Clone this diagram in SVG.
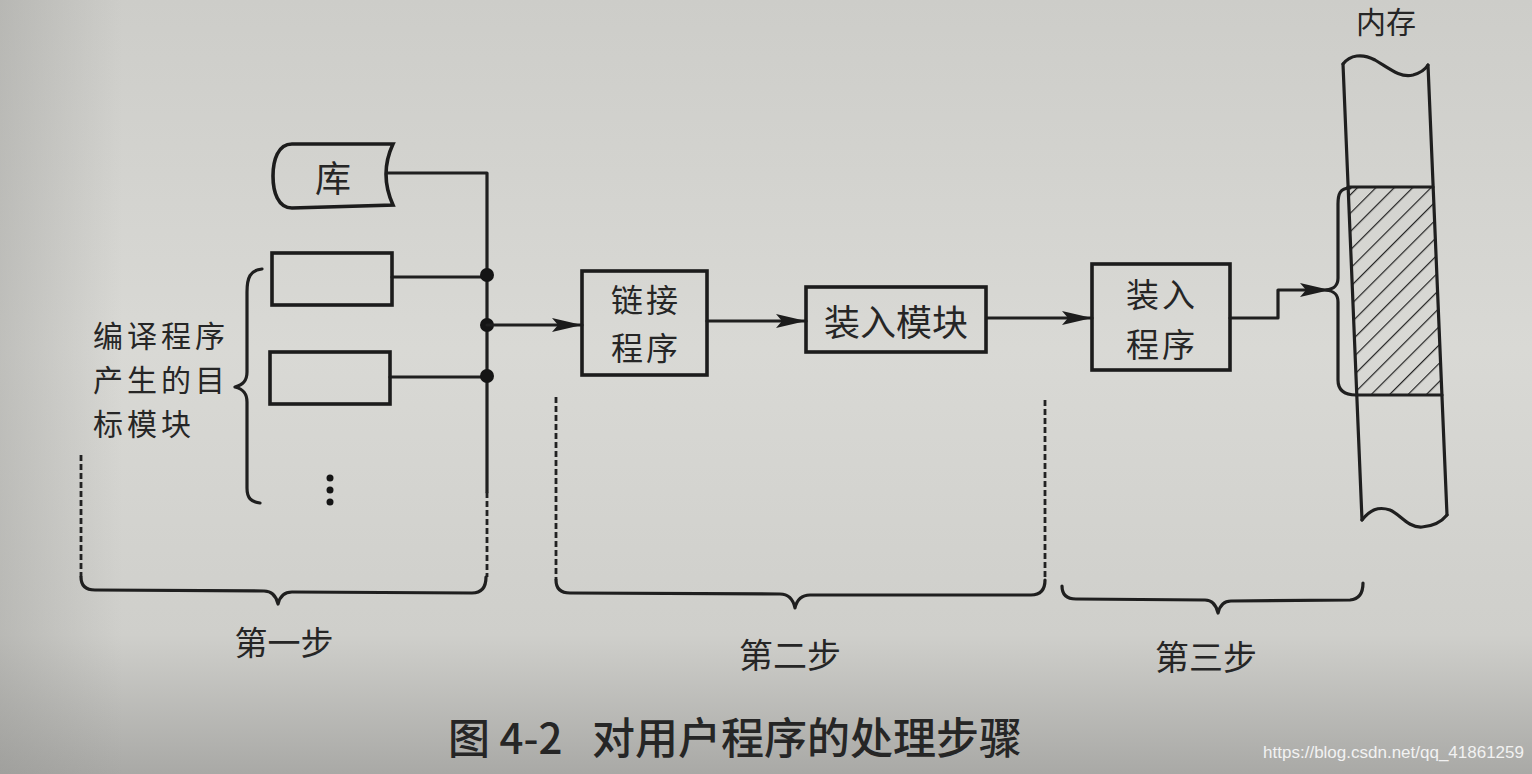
<svg xmlns="http://www.w3.org/2000/svg" width="1532" height="774" viewBox="0 0 1532 774">
<style>
.ln{fill:none;stroke:#1f1f1f;stroke-width:3.2;stroke-linejoin:round;stroke-linecap:round}
.dash{fill:none;stroke:#222;stroke-width:2.8;stroke-dasharray:6 3}
.box{fill:none;stroke:#1c1c1c;stroke-width:3.6}
.t{font-family:"Noto Sans CJK SC","Noto Sans",sans-serif;fill:#262626;dominant-baseline:central}
.dot{fill:#151515}
</style>
<defs>
<linearGradient id="bg" x1="0" y1="0" x2="0" y2="1">
<stop offset="0" stop-color="#cdcdc9"/>
<stop offset="0.45" stop-color="#d9d9d5"/>
<stop offset="0.82" stop-color="#cfcfcb"/>
<stop offset="1" stop-color="#a9a9a6"/>
</linearGradient>
<linearGradient id="side" x1="0" y1="0" x2="1" y2="0">
<stop offset="0" stop-color="#8f8f8c" stop-opacity="0.35"/>
<stop offset="0.08" stop-color="#8f8f8c" stop-opacity="0"/>
<stop offset="1" stop-color="#8f8f8c" stop-opacity="0"/>
</linearGradient>
<pattern id="hatch" patternUnits="userSpaceOnUse" width="13" height="13" patternTransform="rotate(45)">
<line x1="0" y1="0" x2="0" y2="13" stroke="#222" stroke-width="2.4"/>
</pattern>
<clipPath id="hclip"><polygon points="1348,187 1433,187 1442,395 1357,395"/></clipPath>
<marker id="arr" markerUnits="userSpaceOnUse" markerWidth="32" markerHeight="16" refX="30" refY="7" orient="auto">
<path d="M0,0 L30,7 L0,14 L6,7 Z" fill="#1c1c1c"/>
</marker>
</defs>
<rect x="0" y="0" width="1532" height="774" fill="url(#bg)"/>
<rect x="0" y="0" width="1532" height="774" fill="url(#side)"/>

<g id="connectors">
<path class="ln" d="M387,173 H487 V492"/>
<path class="dash" d="M487,492 V577"/>
<path class="ln" d="M392,277 H487"/>
<path class="ln" d="M390,377 H487"/>
<circle class="dot" cx="487" cy="275" r="7"/>
<circle class="dot" cx="487" cy="325" r="7"/>
<circle class="dot" cx="487" cy="376" r="7"/>
<path class="ln" d="M487,325 H582" marker-end="url(#arr)"/>
<path class="ln" d="M707,321 H806" marker-end="url(#arr)"/>
<path class="ln" d="M987,318 H1092" marker-end="url(#arr)"/>
<path class="ln" d="M1230,318 H1278 V290 H1330" marker-end="url(#arr)"/>
</g>

<g id="library">
<path class="box" d="M393,144 L292,144 C278,144 273,160 273,176 C273,192 278,208 292,208 L393,205 Q379,174 393,144 Z"/>
<text class="t" x="333" y="176" font-size="36" text-anchor="middle">库</text>
</g>

<g id="module1"><rect class="box" x="272" y="253" width="120" height="52"/></g>
<g id="module2"><rect class="box" x="270" y="352" width="120" height="52"/></g>
<g id="more">
<circle class="dot" cx="330" cy="478" r="3.5"/>
<circle class="dot" cx="330" cy="490" r="3.5"/>
<circle class="dot" cx="330" cy="502" r="3.5"/>
</g>

<g id="objlabel">
<path class="ln" d="M262,269 C250,270 247,278 247,292 L247,372 C247,381 243,385 235,387 C243,389 247,393 247,402 L247,488 C247,498 251,502 260,503"/>
<text class="t" font-size="30" letter-spacing="4" x="93" y="334">编译程序</text>
<text class="t" font-size="30" letter-spacing="4" x="93" y="378">产生的目</text>
<text class="t" font-size="30" letter-spacing="4" x="93" y="422">标模块</text>
</g>

<g id="linker">
<rect class="box" x="582" y="271" width="125" height="104"/>
<text class="t" font-size="32" letter-spacing="3" x="646" y="298" text-anchor="middle">链接</text>
<text class="t" font-size="32" letter-spacing="3" x="646" y="346" text-anchor="middle">程序</text>
</g>

<g id="loadmodule">
<rect class="box" x="806" y="287" width="180" height="65"/>
<text class="t" font-size="36" x="896" y="320" text-anchor="middle">装入模块</text>
</g>

<g id="loader">
<rect class="box" x="1092" y="264" width="138" height="106"/>
<text class="t" font-size="33" letter-spacing="3" x="1162" y="293" text-anchor="middle">装入</text>
<text class="t" font-size="33" letter-spacing="3" x="1162" y="343" text-anchor="middle">程序</text>
</g>

<g id="memory">
<text class="t" font-size="30" x="1386" y="20" text-anchor="middle">内存</text>
<rect x="1340" y="180" width="110" height="220" fill="url(#hatch)" clip-path="url(#hclip)"/>
<path class="ln" d="M1343,64 C1350,55 1362,53 1375,60 C1390,69 1400,78 1413,75 C1420,73 1425,70 1428,65"/>
<path class="ln" d="M1343,64 L1362,520"/>
<path class="ln" d="M1428,65 L1447,515"/>
<path class="ln" d="M1348,187 H1433"/>
<path class="ln" d="M1357,395 H1442"/>
<path class="ln" d="M1362,520 C1370,510 1378,506 1390,510 C1400,514 1408,528 1422,527 C1435,526 1443,520 1447,515"/>
<path class="ln" stroke-width="2.6" d="M1350,188 C1340,188 1338,194 1338,204 L1338,278 C1338,286 1334,289 1326,290 C1334,291 1338,294 1338,302 L1338,380 C1338,390 1344,395 1356,395"/>
</g>

<g id="step1">
<path class="dash" d="M81,455 V577"/>
<path class="ln" d="M81,577 Q81,590 95,590 L264,591 Q275,591 278,604 Q281,592 292,592 L472,593 Q486,593 486,577"/>
<text class="t" font-size="33" x="284" y="641" text-anchor="middle">第一步</text>
</g>

<g id="step2">
<path class="dash" d="M556,397 V580"/>
<path class="dash" d="M1045,400 V580"/>
<path class="ln" d="M556,580 Q556,593 570,593 L780,594 Q792,594 795,608 Q798,595 810,595 L1031,595 Q1045,595 1045,580"/>
<text class="t" font-size="34" x="790" y="653" text-anchor="middle">第二步</text>
</g>

<g id="step3">
<path class="ln" d="M1062,586 Q1062,599 1076,599 L1205,600 Q1215,600 1218,613 Q1221,601 1231,601 L1350,600 Q1363,599 1363,583"/>
<text class="t" font-size="34" x="1206" y="655" text-anchor="middle">第三步</text>
</g>

<g id="caption">
<text class="t" font-size="42" font-weight="500" x="448" y="735">图 4-2</text>
<text class="t" font-size="43" font-weight="500" x="592" y="735">对用户程序的处理步骤</text>
</g>
<text x="1524" y="752" font-family="Liberation Sans, Arial, sans-serif" font-size="17" fill="#f2f2f2" text-anchor="end" dominant-baseline="central">https://blog.csdn.net/qq_41861259</text>
</svg>
